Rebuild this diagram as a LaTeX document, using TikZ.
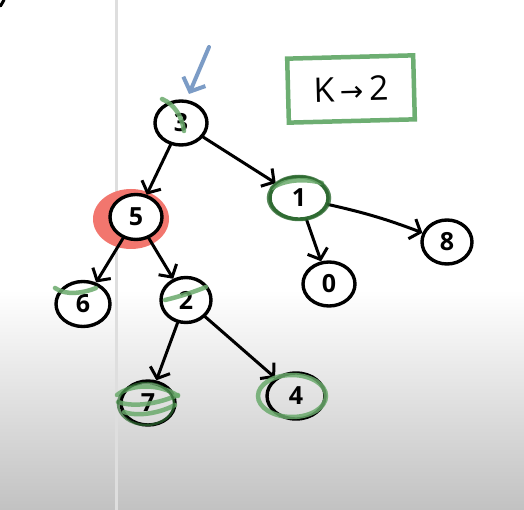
\documentclass[tikz,border=0pt]{standalone}
\usepackage{fontspec}
\setmainfont{Open Sans}
\newfontfamily\symfont{DejaVu Sans}
\usetikzlibrary{shapes.geometric,arrows.meta}
\definecolor{inkgreen}{HTML}{2F6B32}
\definecolor{markgreen}{HTML}{6AAA6C}
\definecolor{boxgreen}{HTML}{6DAE72}
\definecolor{hilite}{HTML}{F2766E}
\definecolor{pointer}{HTML}{7C9CC6}
\definecolor{divider}{HTML}{DEDEDE}
\tikzset{
  treenode/.style={draw=black, ellipse, line width=3.4pt, fill=white, inner sep=0pt,
    minimum width=52pt, minimum height=44pt,
    font=\fontsize{25}{25}\selectfont\bfseries},
  edge/.style={draw=black, line width=3pt, line cap=round,
    -{Straight Barb[length=9pt,width=21pt,line width=3pt]}},
  marker/.style={draw=markgreen, line width=4.5pt, line cap=round, opacity=0.85},
}
\begin{document}
\begin{tikzpicture}[x=1pt,y=-1pt]
\useasboundingbox (0,0) rectangle (524,510);
% page background: white fading to grey towards the bottom
\fill[white] (0,0) rectangle (524,300);
\shade[top color=white, bottom color=black!24] (0,290) rectangle (524,510);
\fill[divider] (114.5,0) rectangle (118,510);
\draw[line width=3pt, line cap=round] (0.5,6) -- (4,0);

% highlight behind the current node
\fill[hilite] (131,219) ellipse [x radius=38pt, y radius=30pt];

% tree nodes
\node[treenode] (n3) at (181,123) {3};
\node[treenode, minimum width=52pt, minimum height=45pt] (n5) at (136,217) {5};
\node[treenode, draw=inkgreen, minimum width=58pt, minimum height=42pt] (n1) at (299,198) {1};
\node[treenode, minimum width=50pt, minimum height=44pt] (n8) at (447,242) {8};
\node[treenode] (n0) at (329,284) {0};
\node[treenode, minimum width=54pt, minimum height=45pt] (n6) at (83,304) {6};
\node[treenode, minimum width=50pt, minimum height=45pt] (n2) at (186,300) {2};
\node[treenode, fill=none, minimum width=54pt, minimum height=44pt] (n7) at (148,403) {7};
\node[treenode, fill=none, minimum width=58pt, minimum height=46pt] (n4) at (296,396) {4};

% tree edges
\draw[edge] (n3) -- (n5);
\draw[edge] (n3) -- (n1);
\draw[edge] (n5) -- (n6);
\draw[edge] (n5) -- (n2);
\draw[edge] (n1) -- (n0);
\draw[edge] (n1) to[bend left=4] (n8);
\draw[edge] (n2) -- (n7);
\draw[edge] (n2) -- (n4);

% green ticks on visited nodes
\draw[marker] (162,99) .. controls (174,104) and (182,116) .. (184,131);
\draw[marker] (272,188) .. controls (284,180) and (304,178) .. (322,183);
\draw[inkgreen, line width=2.5pt, opacity=0.8] (299,198) ellipse [x radius=31pt, y radius=22pt];
\draw[marker] (55,288) .. controls (66,296) and (84,293) .. (96,288);
\draw[marker] (165,300) .. controls (178,297) and (194,292) .. (206,287);
\draw[marker] (117,395) .. controls (130,384) and (160,383) .. (178,396);
\draw[marker] (118,402) .. controls (135,408) and (160,403) .. (178,395);
\draw[marker] (124,412) .. controls (138,417) and (160,413) .. (175,405);
\draw[inkgreen, line width=2.5pt, opacity=0.7] (146,404) ellipse [x radius=28pt, y radius=21pt];
\draw[marker] (292,396) ellipse [x radius=34pt, y radius=21pt];

% pointer to the root
\coordinate (ptail) at (209,47);
\coordinate (phead) at (189,94);
\draw[pointer, line width=4pt, line cap=round,
  -{Straight Barb[length=11pt,width=24pt,line width=4pt]}] (ptail) -- (phead);

% value of k
\node[draw=boxgreen, line width=4.5pt, rotate=1.5, minimum width=126pt, minimum height=64pt,
  font=\fontsize{34}{34}\selectfont] (kbox) at (351,89) {K\,{\symfont\fontsize{28}{28}\selectfont →}\,2};
\end{tikzpicture}
\end{document}
